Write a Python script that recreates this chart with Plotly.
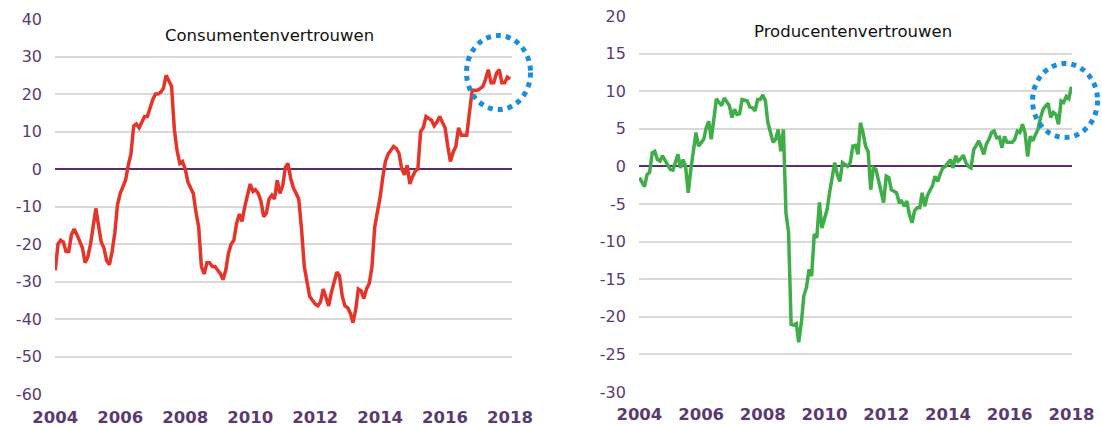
import pandas as pd
import plotly.graph_objects as go

# Monthly data, Jan 2004 .. Jan 2018
consument = [
    # 2004
    -27, -20, -19, -19.5, -22, -22, -17.5, -16, -17.5, -19, -21, -25,
    # 2005
    -23.5, -20, -15, -10.5, -15, -19.5, -21, -24.5, -25.5, -22, -17, -9.5,
    # 2006
    -6.5, -4.5, -3, 1, 4, 11.5, 12, 11, 12.5, 14, 14, 16.5,
    # 2007
    18.5, 20, 20, 20.5, 21.5, 25, 23.5, 22, 10.5, 5, 1.5, 2,
    # 2008
    0, -3.5, -5, -6.5, -11.5, -15.5, -26, -28, -25, -25, -26, -26,
    # 2009
    -27, -28, -29.5, -27, -22.5, -20, -19, -14.5, -12, -14, -10, -6.5,
    # 2010
    -4, -6, -5.5, -6.5, -8.5, -12.7, -11.8, -8, -7, -8, -3, -6.5,
    # 2011
    -4.5, 0.5, 1.5, -2.5, -5, -6.5, -8, -16, -26, -30, -34, -35,
    # 2012
    -36, -36.5, -35.5, -32, -34.5, -36.5, -33, -30.5, -27.5, -28.5, -34, -36.5,
    # 2013
    -37, -38.5, -41, -37.5, -32, -32.5, -34.5, -32, -30.5, -26, -15.5, -11.5,
    # 2014
    -7.5, -2, 2, 4, 5, 6, 5.5, 4.2, 0, -1.5, 1, -4,
    # 2015
    -2, -0.5, 0, 10, 11, 14, 13.5, 13, 11.5, 12.5, 14, 12.5,
    # 2016
    11, 6, 2, 4.5, 6, 11, 9, 9, 9, 15, 21, 21,
    # 2017
    21, 21.5, 22, 24, 26.5, 23, 23, 25.5, 26.5, 23, 23, 24.5,
    # 2018
    24,
]

producent = [
    # 2004
    -1.5, -2.2, -2.7, -1.1, -0.8, 1.8, 2.0, 0.9, 0.7, 1.4, 0.8, 0.3,
    # 2005
    -0.4, -0.5, 0.6, 1.6, -0.2, 0.9, 0.0, -3.5, -0.4, 2.0, 4.5, 2.7,
    # 2006
    3.2, 3.6, 5.1, 6.0, 3.6, 6.9, 9.0, 8.5, 8.1, 9.1, 8.6, 8.1,
    # 2007
    6.5, 7.6, 6.9, 7.0, 8.9, 8.8, 8.7, 7.9, 7.8, 7.4, 8.9, 8.9,
    # 2008
    9.5, 8.7, 5.8, 4.5, 3.2, 3.6, 4.9, 2.0, 4.9, -6.2, -8.8, -21.0,
    # 2009
    -21.1, -20.9, -23.4, -20.8, -17.2, -16.1, -13.7, -14.6, -9.0, -9.5, -4.8, -8.2,
    # 2010
    -7.0, -5.7, -3.5, -1.7, 0.5, -1.1, -2.0, 0.5, 0.2, 0.0, 0.5, 2.7,
    # 2011
    2.8, 1.6, 5.8, 4.5, 2.7, 2.0, -3.1, -0.2, -0.4, -2.0, -3.5, -4.8,
    # 2012
    -1.3, -1.5, -3.1, -3.3, -3.5, -4.7, -4.6, -5.3, -4.6, -6.4, -7.5, -5.9,
    # 2013
    -5.5, -5.5, -3.5, -5.3, -3.9, -3.2, -2.6, -1.3, -2.0, -1.0, -0.2, 0.0,
    # 2014
    0.5, 0.9, -0.2, 1.4, 0.7, 1.0, 1.5, 0.5, 0.0, -0.2, 2.2, 2.7,
    # 2015
    3.4, 2.5, 1.6, 3.0, 3.6, 4.5, 4.7, 3.8, 3.9, 2.5, 4.0, 3.2,
    # 2016
    3.2, 3.2, 3.6, 4.7, 4.5, 5.6, 4.5, 1.3, 4.0, 3.4, 4.2, 4.9,
    # 2017
    6.5, 7.6, 8.0, 8.4, 6.5, 7.2, 6.9, 5.6, 8.7, 8.5, 9.3, 9.0,
    # 2018
    10.6,
]

months = pd.date_range("2004-01-01", periods=len(consument), freq="MS")

titles = ["Consumentenvertrouwen", "Producentenvertrouwen"]
tick_years = [str(y) for y in range(2004, 2019, 2)]
tick_dates = [f"{y}-01-01" for y in range(2004, 2019, 2)]
y1_ticks = [40, 30, 20, 10, 0, -10, -20, -30, -40, -50, -60]
y1_labels = ["40", "30", "20", "10", "0", "-10", "-20", "-30", "-40", "-50", "-60"]
y2_ticks = [20, 15, 10, 5, 0, -5, -10, -15, -20, -25, -30]
y2_labels = ["20", "15", "10", "5", "0", "-5", "-10", "-15", "-20", "-25", "-30"]

RED = "#e5342a"
GREEN = "#3fae49"
PURPLE = "#5b3a72"
ZERO = "#5a2d6c"
GRID = "#d9d9d9"
BLUE = "#1a8ed6"

fig = go.Figure()
fig.add_trace(go.Scatter(x=months, y=consument, mode="lines",
                         line=dict(color=RED, width=3.5), xaxis="x", yaxis="y",
                         showlegend=False))
fig.add_trace(go.Scatter(x=months, y=producent, mode="lines",
                         line=dict(color=GREEN, width=3.5), xaxis="x2", yaxis="y2",
                         showlegend=False))

xcommon = dict(type="date", tickmode="array", tickvals=tick_dates, ticktext=tick_years,
               showgrid=False, showline=False, zeroline=False, ticks="",
               tickfont=dict(family="DejaVu Sans", size=16.5, color=PURPLE, weight="bold"),
               ticklabelstandoff=11)
ycommon = dict(showgrid=True, gridcolor=GRID, gridwidth=2, zeroline=True,
               zerolinecolor=ZERO, zerolinewidth=2, showline=False, ticks="",
               tickmode="array",
               tickfont=dict(family="DejaVu Sans", size=16, color=PURPLE),
               ticklabelstandoff=12)

fig.update_layout(
    width=1102, height=425,
    margin=dict(l=55, r=30, t=16, b=31, autoexpand=False),
    paper_bgcolor="white", plot_bgcolor="white",
    xaxis=dict(domain=[0, 0.4494], range=["2003-12-29", "2018-01-23"], anchor="y", **xcommon),
    yaxis=dict(domain=[0, 0.992], range=[-60, 40], tickvals=y1_ticks, ticktext=y1_labels,
               anchor="x", **ycommon),
    xaxis2=dict(domain=[0.5742, 1.0], range=["2003-12-27", "2018-01-08"], anchor="y2", **xcommon),
    yaxis2=dict(domain=[0.0053, 1.0], range=[-30, 20], tickvals=y2_ticks, ticktext=y2_labels,
                anchor="x2", **ycommon),
    annotations=[
        dict(text=titles[0], xref="paper", yref="paper", x=0.2114, y=0.948,
             xanchor="center", yanchor="middle", showarrow=False,
             font=dict(family="DejaVu Sans", size=16.5, color="#111111")),
        dict(text=titles[1], xref="paper", yref="paper", x=0.785, y=0.958,
             xanchor="center", yanchor="middle", showarrow=False,
             font=dict(family="DejaVu Sans", size=16.5, color="#111111")),
    ],
    shapes=[
        dict(type="circle", xref="paper", yref="paper",
             x0=0.4046, x1=0.4676, y0=0.7526, y1=0.9484,
             line=dict(color=BLUE, width=5, dash="dot")),
        dict(type="circle", xref="paper", yref="paper",
             x0=0.9612, x1=1.0251, y0=0.6786, y1=0.8743,
             line=dict(color=BLUE, width=5, dash="dot")),
    ],
)

fig.write_html("out.html", config={"displayModeBar": False},
               post_script="document.body.style.margin='0';document.body.style.padding='0';")
